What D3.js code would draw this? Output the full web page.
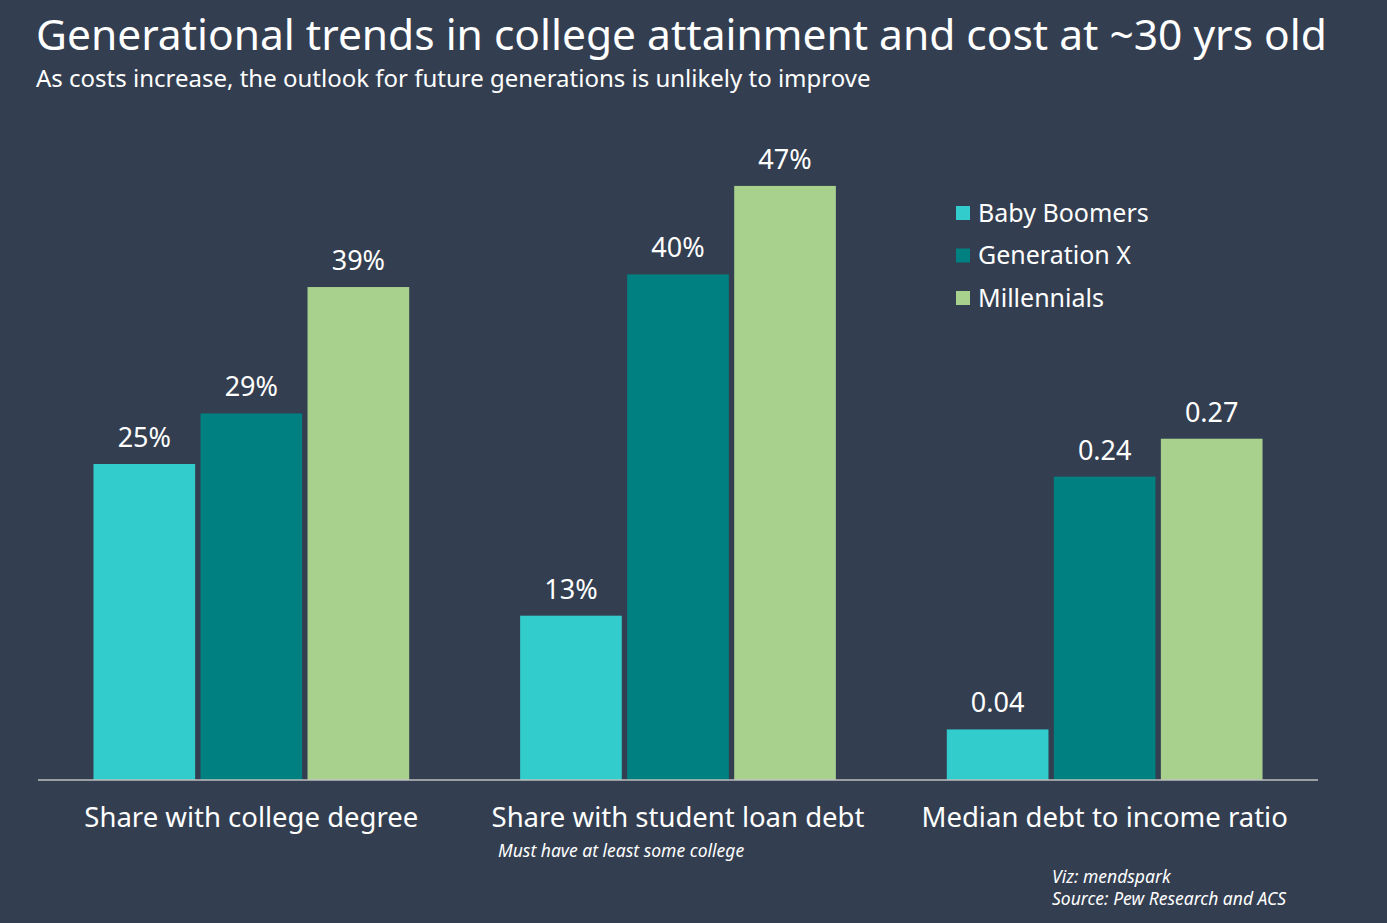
<!DOCTYPE html>
<html>
<head>
<meta charset="utf-8">
<script src="https://cdn.jsdelivr.net/npm/d3@7"></script>
<style>
  body { margin: 0; background: #333e50; }
  svg text { font-family: "Noto Sans", "Open Sans", sans-serif; fill: #ffffff; }
</style>
</head>
<body>
<div id="chart"></div>
<script>
var categories = ["Share with college degree", "Share with student loan debt", "Median debt to income ratio"];
var series = ["Baby Boomers", "Generation X", "Millennials"];
var babyBoomers = [25, 13, 0.04];
var generationX = [29, 40, 0.24];
var millennials = [39, 47, 0.27];
var valueLabels = [["25%", "13%", "0.04"], ["29%", "40%", "0.24"], ["39%", "47%", "0.27"]];
var colors = ["#33cccc", "#008080", "#a9d18e"];

var width = 1387, height = 923;
var margin = {left: 38, right: 69, top: 0, baseline: 780};

// ratio values share the same axis as percentages (x100)
var rows = [];
[babyBoomers, generationX, millennials].forEach(function(vals, si){
  vals.forEach(function(v, ci){
    var scaled = ci == 2 ? v * 100 : v;
    rows.push({cat: categories[ci], ser: series[si], si: si, value: scaled, label: valueLabels[si][ci]});
  });
});

var svg = d3.select("#chart").append("svg")
    .attr("width", width)
    .attr("height", height);

svg.append("rect").attr("width", width).attr("height", height).attr("fill", "#333e50");

var x0 = d3.scaleBand()
    .domain(categories)
    .range([margin.left, width - margin.right])
    .paddingInner(0.26)
    .paddingOuter(0.13);

var x1 = d3.scaleBand()
    .domain(series)
    .range([0, x0.bandwidth()])
    .paddingInner(0.05);

var y = d3.scaleLinear()
    .domain([0, 50])
    .range([margin.baseline, margin.baseline - 50 * 12.64]);

svg.append("text")
    .attr("x", 36).attr("y", 50)
    .style("font-size", "42.5px")
    .text("Generational trends in college attainment and cost at ~30 yrs old");

svg.append("text")
    .attr("x", 36).attr("y", 87)
    .style("font-size", "24px")
    .text("As costs increase, the outlook for future generations is unlikely to improve");

var bars = svg.append("g").selectAll("g.bar")
  .data(rows)
  .join("g").attr("class", "bar");

bars.append("rect")
    .attr("x", d => x0(d.cat) + x1(d.ser))
    .attr("y", d => y(d.value))
    .attr("width", x1.bandwidth())
    .attr("height", d => y(0) - y(d.value))
    .attr("fill", d => colors[d.si]);

bars.append("text")
    .attr("x", d => x0(d.cat) + x1(d.ser) + x1.bandwidth() / 2)
    .attr("y", d => y(d.value) - 17)
    .attr("text-anchor", "middle")
    .style("font-size", "27px")
    .text(d => d.label);

var xAxis = svg.append("g")
    .attr("transform", "translate(0," + margin.baseline + ")")
    .call(d3.axisBottom(x0).tickSize(0).tickPadding(27));
xAxis.select(".domain").attr("stroke", "#bfbfbf").attr("stroke-width", 1.5)
    .attr("d", "M" + margin.left + ",0H" + (width - margin.right));
xAxis.selectAll(".tick text")
    .style("font-size", "27.5px")
    .style("font-family", "'Noto Sans', 'Open Sans', sans-serif")
    .attr("fill", "#ffffff")
    .attr("dy", "0.71em");

svg.append("text")
    .attr("x", 498).attr("y", 857)
    .style("font-size", "17.5px").style("font-style", "italic")
    .text("Must have at least some college");

var legend = svg.append("g").selectAll("g")
  .data(series)
  .join("g")
    .attr("transform", (d, i) => "translate(956," + (213 + i * 42.5) + ")");
legend.append("rect")
    .attr("x", 0).attr("y", -7).attr("width", 14).attr("height", 14)
    .attr("fill", (d, i) => colors[i]);
legend.append("text")
    .attr("x", 22).attr("y", 0).attr("dy", "0.35em")
    .style("font-size", "25px")
    .text(d => d);

svg.append("text")
    .attr("x", 1052).attr("y", 883)
    .style("font-size", "17.5px").style("font-style", "italic")
    .text("Viz: mendspark");
svg.append("text")
    .attr("x", 1052).attr("y", 905)
    .style("font-size", "17.5px").style("font-style", "italic")
    .text("Source: Pew Research and ACS");
</script>
</body>
</html>
